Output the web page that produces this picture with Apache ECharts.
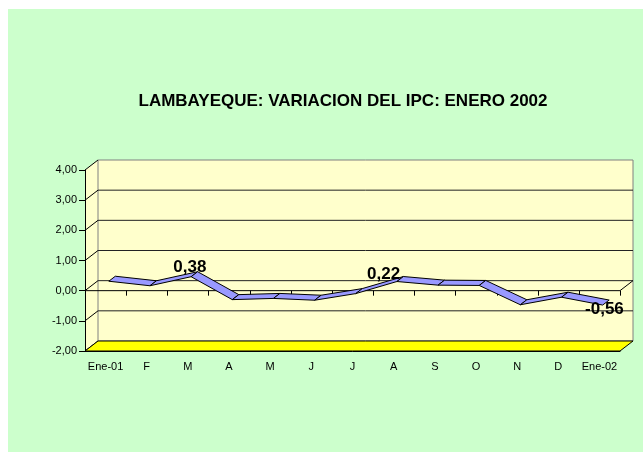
<!DOCTYPE html>
<html>
<head>
<meta charset="utf-8">
<script src="https://cdn.jsdelivr.net/npm/echarts@6/dist/echarts.min.js"></script>
<style>
html,body{margin:0;padding:0;background:#fff;}
#chart{width:643px;height:452px;}
</style>
</head>
<body>
<div id="chart"></div>
<script>
// datos
var categories = ['Ene-01','F','M','A','M','J','J','A','S','O','N','D','Ene-02'];
var ipcValues = [0.23, 0.08, 0.38, -0.38, -0.34, -0.40, -0.18, 0.22, 0.10, 0.09, -0.55, -0.30, -0.56];
var labeledPoints = [2, 7, 12];
var yMin = -2, yMax = 4, yStep = 1;

var FONT = 'Liberation Sans, Arial, sans-serif';
var DEPTH = [13, -10];
// desplazamiento de cada etiqueta respecto a su punto
var LABEL_OFFSETS = {2: [2, -11.5], 7: [-10, -9.5], 12: [5, 2]};

function fmt(v) {
	return v.toFixed(2).replace('.', ',');
}

function line(x1, y1, x2, y2, color) {
	return {type: 'line', shape: {x1: x1, y1: y1, x2: x2, y2: y2},
		style: {stroke: color || '#000', lineWidth: 1}};
}

function renderFrame(params, api) {
	var cs = params.coordSys;
	var x0 = cs.x, x1 = cs.x + cs.width, yTop = cs.y, yBot = cs.y + cs.height;
	var dx = DEPTH[0], dy = DEPTH[1];
	var ch = [];
	// pared lateral
	ch.push({type: 'polygon', shape: {points: [[x0, yTop], [x0 + dx, yTop + dy], [x0 + dx, yBot + dy], [x0, yBot]]},
		style: {fill: '#FFFFCC'}});
	// pared del fondo
	ch.push({type: 'rect', shape: {x: x0 + dx, y: yTop + dy, width: cs.width, height: cs.height},
		style: {fill: '#FFFFCC', stroke: '#808080', lineWidth: 1}});
	for (var v = yMin; v <= yMax; v += yStep) {
		var y = api.coord([0, v])[1];
		if (v > yMin && v < yMax) ch.push(line(x0 + dx, y + dy, x1 + dx, y + dy, '#222'));
		ch.push(line(x0, y, x0 + dx, y + dy));
	}
	// piso
	ch.push({type: 'polygon', shape: {points: [[x0, yBot], [x1, yBot], [x1 + dx, yBot + dy], [x0 + dx, yBot + dy]]},
		style: {fill: '#FFFF00', stroke: '#000', lineWidth: 1}});
	// plano del cero
	var y0 = api.coord([0, 0])[1];
	ch.push(line(x0, y0, x1, y0));
	ch.push(line(x1, y0, x1 + dx, y0 + dy));
	var bw = cs.width / categories.length;
	for (var k = 0; k <= categories.length; k++) {
		var xx = Math.round(x0 + k * bw) + 0.5;
		ch.push(line(xx, y0, xx, y0 + 5));
	}
	return {type: 'group', children: ch};
}

function renderRibbon(params, api) {
	var i = api.value(0);
	var p0 = api.coord([i, api.value(1)]);
	var p1 = api.coord([i + 1, api.value(2)]);
	var f = [DEPTH[0] * 0.25, DEPTH[1] * 0.25], b = [DEPTH[0] * 0.75, DEPTH[1] * 0.75];
	return {
		type: 'polygon',
		shape: {points: [
			[p0[0] + f[0], p0[1] + f[1]], [p1[0] + f[0], p1[1] + f[1]],
			[p1[0] + b[0], p1[1] + b[1]], [p0[0] + b[0], p0[1] + b[1]]
		]},
		style: {fill: '#9999FF', stroke: '#000', lineWidth: 1}
	};
}

function renderLabel(params, api) {
	var idx = api.value(0), v = api.value(1);
	var p = api.coord([idx, v]);
	var off = LABEL_OFFSETS[idx] || [0, -10];
	return {
		type: 'text', x: p[0] + off[0], y: p[1] + off[1],
		style: {text: fmt(v), fontSize: 17, fontWeight: 'bold', fontFamily: FONT,
			fill: '#000', align: 'center', verticalAlign: 'middle'}
	};
}

var ribbonData = [];
for (var i = 0; i < ipcValues.length - 1; i++) {
	ribbonData.push([i, ipcValues[i], ipcValues[i + 1]]);
}
var labelData = labeledPoints.map(function (i) { return [i, ipcValues[i]]; });

var myChart = echarts.init(document.getElementById('chart'));
var option = {
	backgroundColor: '#fff',
	animation: false,
	graphic: [{type: 'rect', z: -1, shape: {x: 8, y: 9, width: 635, height: 443}, style: {fill: '#CCFFCC'}}],
	title: {
		text: 'LAMBAYEQUE: VARIACION DEL IPC: ENERO 2002',
		left: 343, top: 93, textAlign: 'center', padding: 0,
		textStyle: {fontSize: 17, fontWeight: 'bold', fontFamily: FONT, color: '#000'}
	},
	grid: {left: 85, right: 23, top: 170, bottom: 101},
	xAxis: {
		type: 'category', data: categories, boundaryGap: true, z: 5,
		axisLine: {onZero: false, lineStyle: {color: '#000'}},
		axisTick: {length: 5, lineStyle: {color: '#000'}},
		axisLabel: {color: '#000', fontSize: 11, fontFamily: FONT, margin: 10, interval: 0},
		splitLine: {show: false}
	},
	yAxis: {
		type: 'value', min: yMin, max: yMax, interval: yStep, z: 5,
		axisLine: {show: true, lineStyle: {color: '#000'}},
		axisTick: {show: true, length: 6, lineStyle: {color: '#000'}},
		axisLabel: {color: '#000', fontSize: 11, fontFamily: FONT, margin: 8, formatter: fmt},
		splitLine: {show: false}
	},
	series: [
		{type: 'custom', z: 1, silent: true, renderItem: renderFrame, data: [[0, 0]], encode: {x: 0, y: 1}},
		{type: 'custom', z: 2, renderItem: renderRibbon, data: ribbonData, encode: {x: 0, y: [1, 2]}},
		{type: 'custom', z: 3, renderItem: renderLabel, data: labelData, encode: {x: 0, y: 1}}
	]
};
myChart.setOption(option, true);
window.addEventListener('resize', function () {
	myChart.resize();
});
</script>
</body>
</html>
